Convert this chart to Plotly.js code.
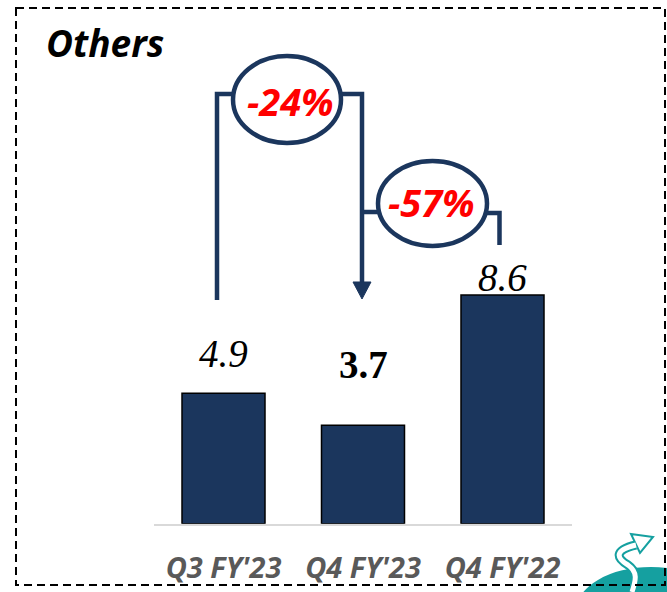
<!DOCTYPE html>
<html>
<head>
<meta charset="utf-8">
<script src="https://cdn.plot.ly/plotly-3.0.1.min.js"></script>
<style>html,body{margin:0;padding:0;background:#fff;}#chart{width:667px;height:592px;}</style>
</head>
<body>
<div id="chart"></div>
<script>
// ---- data ----
const categories = ["Q3 FY'23", "Q4 FY'23", "Q4 FY'22"];
const values = [4.9, 3.7, 8.6];
const valueLabels = ["4.9", "3.7", "8.6"];
const changeLabels = ["-24%", "-57%"];
const chartTitle = "Others";

// ---- styling ----
const W = 667, H = 592;
const NAVY = '#1b365d';
const labelStyle = [
  {weight: 'normal', style: 'italic', shift: 40},
  {weight: 'bold', style: 'normal', shift: 61},
  {weight: 'normal', style: 'italic', shift: 17}
];
const px = x => x / W;
const py = y => 1 - y / H;
const P = (x, y) => px(x).toFixed(5) + ',' + py(y).toFixed(5);

const shapes = [];
const line = {color: NAVY, width: 4.5};
// bracket 1 (Q3 FY'23 -> Q4 FY'23)
shapes.push({type: 'path', xref: 'paper', yref: 'paper', layer: 'above',
  path: 'M' + P(217, 300) + ' L' + P(217, 94) + ' L' + P(240, 94), line: line});
shapes.push({type: 'path', xref: 'paper', yref: 'paper', layer: 'above',
  path: 'M' + P(335, 94) + ' L' + P(362, 94) + ' L' + P(362, 284), line: line});
// arrowhead
shapes.push({type: 'path', xref: 'paper', yref: 'paper', layer: 'above',
  path: 'M' + P(353, 282) + ' L' + P(371, 282) + ' L' + P(362, 299) + ' Z',
  fillcolor: NAVY, line: {color: NAVY, width: 1}});
// bracket 2 (Q4 FY'23 -> Q4 FY'22)
shapes.push({type: 'path', xref: 'paper', yref: 'paper', layer: 'above',
  path: 'M' + P(362, 212) + ' L' + P(382, 212), line: line});
shapes.push({type: 'path', xref: 'paper', yref: 'paper', layer: 'above',
  path: 'M' + P(482, 213) + ' L' + P(499.5, 213) + ' L' + P(499.5, 245), line: line});
// ellipses
shapes.push({type: 'circle', xref: 'paper', yref: 'paper', layer: 'above',
  x0: px(233), x1: px(341), y0: py(56), y1: py(143), fillcolor: '#ffffff', line: line});
shapes.push({type: 'circle', xref: 'paper', yref: 'paper', layer: 'above',
  x0: px(378), x1: px(487), y0: py(161), y1: py(246), fillcolor: '#ffffff', line: line});
// logo (bottom right)
shapes.push({type: 'circle', xref: 'paper', yref: 'paper', layer: 'above',
  x0: px(576), x1: px(726), y0: py(567), y1: py(655), fillcolor: '#15a0a0', line: {width: 0}});
const sPath = 'M' + P(632, 592) + ' C' + P(636, 580) + ' ' + P(638, 572) + ' ' + P(628, 565) +
  ' C' + P(616, 558) + ' ' + P(614, 550) + ' ' + P(636, 545);
shapes.push({type: 'path', xref: 'paper', yref: 'paper', layer: 'above', path: sPath,
  line: {color: '#15a0a0', width: 9}});
shapes.push({type: 'path', xref: 'paper', yref: 'paper', layer: 'above',
  path: 'M' + P(631, 534) + ' L' + P(653, 537) + ' L' + P(640, 553) + ' Z',
  fillcolor: '#ffffff', line: {color: '#15a0a0', width: 2}});
shapes.push({type: 'path', xref: 'paper', yref: 'paper', layer: 'above', path: sPath,
  line: {color: '#ffffff', width: 5}});
// dashed border
shapes.push({type: 'rect', xref: 'paper', yref: 'paper', layer: 'above',
  x0: px(16), x1: px(665), y0: py(8), y1: py(585),
  line: {color: '#000000', width: 2, dash: '8px,5px'}});

const annotations = [];
annotations.push({xref: 'paper', yref: 'paper', x: px(44), y: py(42), xanchor: 'left', yanchor: 'middle',
  text: chartTitle, showarrow: false,
  font: {family: 'Open Sans', size: 37, color: '#000000', weight: 'bold', style: 'italic'}});
values.forEach((v, i) => {
  annotations.push({x: categories[i], y: v, xref: 'x', yref: 'y', text: valueLabels[i], showarrow: false,
    yanchor: 'middle', yshift: labelStyle[i].shift,
    font: {family: 'Liberation Serif', size: 39, color: '#000000',
      weight: labelStyle[i].weight, style: labelStyle[i].style}});
});
const changePos = [[290, 101], [431, 202]];
changeLabels.forEach((t, i) => {
  annotations.push({xref: 'paper', yref: 'paper', x: px(changePos[i][0]), y: py(changePos[i][1]),
    xanchor: 'center', yanchor: 'middle', text: t, showarrow: false,
    font: {family: 'Open Sans', size: 38, color: '#ff0000', weight: 'bold', style: 'italic'}});
});

const trace = {
  type: 'bar', x: categories, y: values, width: 0.595,
  marker: {color: NAVY, line: {color: '#000000', width: 1.5}},
  hoverinfo: 'skip'
};

const layout = {
  width: W, height: H,
  margin: {l: 0, r: 0, t: 0, b: 0},
  paper_bgcolor: '#ffffff', plot_bgcolor: 'rgba(0,0,0,0)',
  showlegend: false,
  xaxis: {domain: [153.75 / W, 572.25 / W], type: 'category', range: [-0.5, 2.5],
    showline: true, linecolor: '#d9d9d9', linewidth: 2, showgrid: false, zeroline: false,
    ticks: '', ticklabelstandoff: 17,
    tickfont: {family: 'Open Sans', size: 29, color: '#595959', weight: 'bold', style: 'italic'}},
  yaxis: {domain: [68.3 / H, 1], range: [0, 19.69], visible: false, fixedrange: true},
  shapes: shapes, annotations: annotations
};

Plotly.newPlot('chart', [trace], layout, {displayModeBar: false, staticPlot: true});
</script>
</body>
</html>
